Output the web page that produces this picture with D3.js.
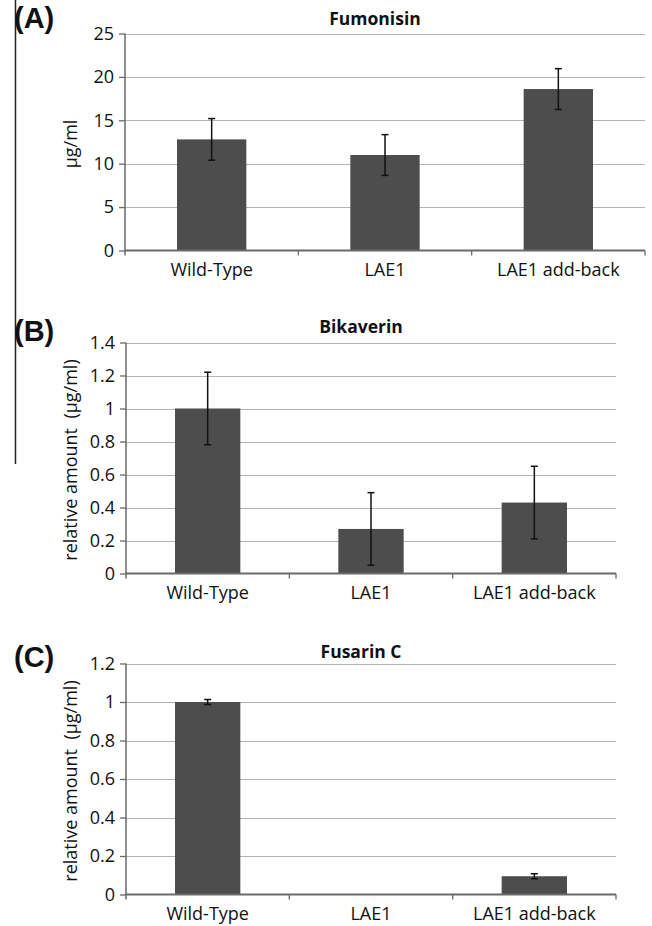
<!DOCTYPE html>
<html>
<head>
<meta charset="utf-8">
<script src="https://cdn.jsdelivr.net/npm/d3@7"></script>
<style>
  body { margin: 0; background: #fff; }
  svg { display: block; }
  text { font-family: "Open Sans", "Noto Sans", sans-serif; fill: #111; }
</style>
</head>
<body>
<svg id="chart" width="652" height="926"></svg>
<script>
var categories = ['Wild-Type', 'LAE1', 'LAE1 add-back'];

var fumonisin = [12.8, 11.0, 18.6];
var fumonisinErr = [2.4, 2.35, 2.35];
var fumonisinTicks = [0, 5, 10, 15, 20, 25];

var bikaverin = [1.0, 0.27, 0.43];
var bikaverinErr = [0.22, 0.22, 0.22];
var bikaverinTicks = [0, 0.2, 0.4, 0.6, 0.8, 1, 1.2, 1.4];

var fusarin = [1.0, 0, 0.095];
var fusarinErr = [0.013, 0, 0.013];
var fusarinTicks = [0, 0.2, 0.4, 0.6, 0.8, 1, 1.2];

var barColor = '#4d4d4d';
var gridColor = '#b4b4b4';
var axisColor = '#6a6a6a';
var fontSize = 18;

var svg = d3.select('#chart');

// odd rule line down the left side
svg.append('line')
  .attr('x1', 15.5).attr('x2', 15.5)
  .attr('y1', 0).attr('y2', 464)
  .attr('stroke', '#222').attr('stroke-width', 1.5);

var drawPanel = function (opts) {
  var g = svg.append('g');
  var x = d3.scaleBand()
    .domain(categories)
    .range([opts.left, opts.right])
    .paddingInner(0.6)
    .paddingOuter(0.3);
  var ticks = opts.ticks;
  var y = d3.scaleLinear()
    .domain([0, ticks[ticks.length - 1]])
    .range([opts.bottom, opts.top]);

  // gridlines
  g.selectAll('.grid')
    .data(ticks.slice(1))
    .enter()
    .append('line')
    .attr('x1', opts.left).attr('x2', opts.right)
    .attr('y1', function (d) { return Math.round(y(d)) + 0.5; })
    .attr('y2', function (d) { return Math.round(y(d)) + 0.5; })
    .attr('stroke', gridColor).attr('stroke-width', 1.2);

  // bars
  var data = categories.map(function (c, i) {
    return {cat: c, v: opts.values[i], e: opts.errors[i]};
  });
  g.selectAll('rect')
    .data(data)
    .enter()
    .append('rect')
    .attr('x', function (d) { return x(d.cat); })
    .attr('width', x.bandwidth())
    .attr('y', function (d) { return y(d.v); })
    .attr('height', function (d) { return y(0) - y(d.v); })
    .attr('fill', barColor);

  // error bars
  var errs = data.filter(function (d) { return d.e > 0; });
  var eg = g.selectAll('.err').data(errs).enter().append('g')
    .attr('transform', function (d) {
      return 'translate(' + (x(d.cat) + x.bandwidth() / 2) + ',0)';
    });
  eg.append('line')
    .attr('y1', function (d) { return y(d.v + d.e); })
    .attr('y2', function (d) { return y(d.v - d.e); })
    .attr('stroke', '#111').attr('stroke-width', 1.5);
  eg.selectAll('.cap')
    .data(function (d) { return [d.v + d.e, d.v - d.e]; })
    .enter()
    .append('line')
    .attr('x1', -3.5).attr('x2', 3.5)
    .attr('y1', function (d) { return y(d); })
    .attr('y2', function (d) { return y(d); })
    .attr('stroke', '#111').attr('stroke-width', 1.5);

  // y axis
  var yAxis = d3.axisLeft(y)
    .tickValues(ticks)
    .tickSize(6)
    .tickPadding(5)
    .tickFormat(d3.format('~g'));
  var ya = g.append('g')
    .attr('transform', 'translate(' + opts.left + ',0)')
    .call(yAxis);
  ya.select('.domain').remove();
  ya.append('line')
    .attr('y1', opts.top).attr('y2', opts.bottom + 5)
    .attr('stroke', axisColor).attr('stroke-width', 1.5);
  ya.selectAll('.tick line').attr('stroke', axisColor).attr('stroke-width', 1.3);
  ya.selectAll('.tick text')
    .attr('font-size', fontSize)
    .attr('font-family', '"Open Sans", sans-serif')
    .attr('fill', '#111');

  // x axis
  var xa = g.append('g')
    .attr('transform', 'translate(0,' + opts.bottom + ')');
  xa.append('line')
    .attr('x1', opts.left).attr('x2', opts.right)
    .attr('stroke', axisColor).attr('stroke-width', 1.8);
  var bounds = d3.range(categories.length + 1).map(function (i) {
    return opts.left + i * x.step();
  });
  xa.selectAll('.xtick')
    .data(bounds.slice(1))
    .enter()
    .append('line')
    .attr('x1', function (d) { return d; }).attr('x2', function (d) { return d; })
    .attr('y1', 0).attr('y2', 5)
    .attr('stroke', axisColor).attr('stroke-width', 1.3);
  xa.selectAll('.xlab')
    .data(categories)
    .enter()
    .append('text')
    .attr('x', function (d) { return x(d) + x.bandwidth() / 2; })
    .attr('y', 25)
    .attr('text-anchor', 'middle')
    .attr('font-size', fontSize)
    .text(function (d) { return d; });

  // title
  g.append('text')
    .attr('x', (opts.left + opts.right) / 2 - 10)
    .attr('y', opts.titleY)
    .attr('text-anchor', 'middle')
    .attr('font-size', 17.5)
    .attr('font-weight', 'bold')
    .text(opts.title);

  // y label
  g.append('text')
    .attr('transform', 'translate(77,' + ((opts.top + opts.bottom) / 2 + 2) + ') rotate(-90)')
    .attr('text-anchor', 'middle')
    .attr('font-size', fontSize)
    .attr('xml:space', 'preserve')
    .style('white-space', 'pre')
    .text(opts.ylabel);

  // panel letter
  g.append('text')
    .attr('x', 14)
    .attr('y', opts.letterY)
    .attr('font-size', 29)
    .attr('font-weight', 'bold')
    .style('font-family', '"Liberation Sans", Arial, sans-serif')
    .text(opts.letter);
};

drawPanel({
  left: 125, right: 645, top: 33.5, bottom: 250.5,
  values: fumonisin, errors: fumonisinErr, ticks: fumonisinTicks,
  title: 'Fumonisin', titleY: 25, ylabel: 'µg/ml', letter: '(A)', letterY: 28
});

drawPanel({
  left: 126, right: 616, top: 342.5, bottom: 573.5,
  values: bikaverin, errors: bikaverinErr, ticks: bikaverinTicks,
  title: 'Bikaverin', titleY: 333, ylabel: 'relative amount  (µg/ml)', letter: '(B)', letterY: 341
});

drawPanel({
  left: 126, right: 616, top: 663.5, bottom: 894.5,
  values: fusarin, errors: fusarinErr, ticks: fusarinTicks,
  title: 'Fusarin C', titleY: 658, ylabel: 'relative amount  (µg/ml)', letter: '(C)', letterY: 667
});
</script>
</body>
</html>
